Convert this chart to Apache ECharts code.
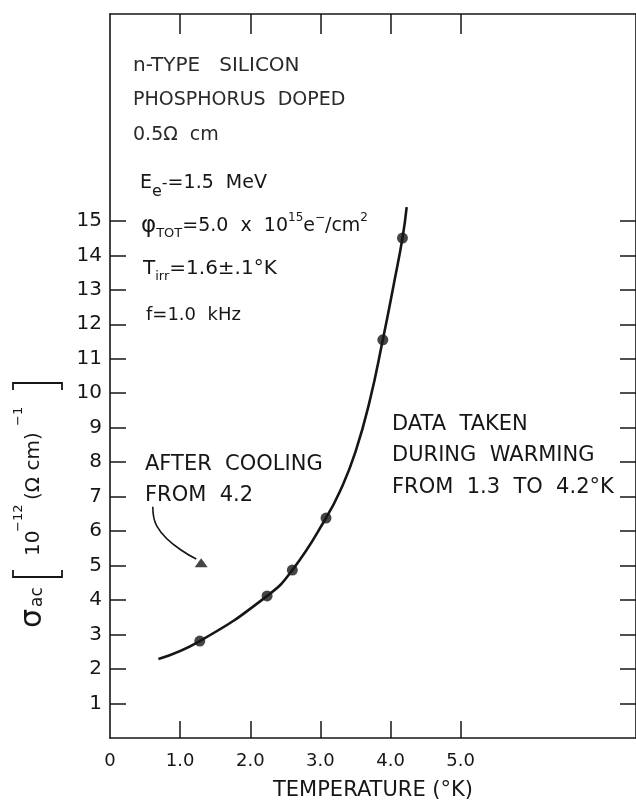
<!DOCTYPE html>
<html>
<head>
<meta charset="utf-8">
<script src="https://cdn.jsdelivr.net/npm/echarts@6/dist/echarts.min.js"></script>
<style>
  html, body { margin: 0; padding: 0; background: #fff; }
  #chart { width: 636px; height: 806px; }
</style>
</head>
<body>
<div id="chart"></div>
<script>
// Tick positions and labels
const yTickValues = [1, 2, 3, 4, 5, 6, 7, 8, 9, 10, 11, 12, 13, 14, 15];
const xTickValues = [1, 2, 3, 4, 5];
const xLabelValues = [0, 1, 2, 3, 4, 5];
const xTickLabels = ['0', '1.0', '2.0', '3.0', '4.0', '5.0'];

// Conductivity measured while warming from 1.3 to 4.2 K
const warmTemp  = [1.28, 2.24, 2.60, 3.08, 3.89, 4.17];
const warmSigma = [2.81, 4.12, 4.87, 6.38, 11.55, 14.5];

// Hand-drawn trend through the warming data
const curveTemp  = [0.69, 1.28, 2.24, 2.60, 3.08, 3.30, 3.50, 3.70, 3.89, 4.05, 4.17, 4.23];
const curveSigma = [2.29, 2.81, 4.12, 4.87, 6.38, 7.25, 8.30, 9.75, 11.55, 13.2, 14.5, 15.4];

// Single reading taken after cooling back from 4.2 K
const cooledTemp  = [1.30];
const cooledSigma = [5.08];

// Leader arrow from the "after cooling" note to that reading
const arrowTemp  = [0.61, 0.67, 1.23];
const arrowSigma = [6.71, 6.14, 5.19];

const INK = '#161616';
const FONT = 'DejaVu Sans';

const pairs = (xs, ys) => xs.map((x, i) => [x, ys[i]]);

const chart = echarts.init(document.getElementById('chart'), null, { renderer: 'canvas' });

const axisLineStyle = { color: INK, width: 1.6 };
const tickStyle = { color: INK, width: 1.5 };

function note(x, y, text, size, rich, color) {
  return {
    type: 'text', x: x, y: y, z: 50,
    style: {
      text: text, fill: color || INK, fontFamily: FONT, fontSize: size,
      align: 'left', verticalAlign: 'middle', rich: rich || undefined
    }
  };
}

function upright(x, y, text, size) {
  return {
    type: 'text', x: x, y: y, rotation: Math.PI / 2, z: 50,
    style: { text: text, fill: INK, fontFamily: FONT, fontSize: size, align: 'left', verticalAlign: 'middle' }
  };
}

const richBase = {
  sub: { fontSize: 13, fontFamily: FONT, fill: INK, padding: [16, 0, 0, 0] },
  subE: { fontSize: 16, fontFamily: FONT, fill: INK, padding: [18, 0, 0, 0] },
  dash: { fontSize: 16, fontFamily: FONT, fill: INK, padding: [2, 0, 0, 0] },
  sup: { fontSize: 12, fontFamily: FONT, fill: INK, padding: [0, 0, 16, 0] },
  phi: { fontSize: 23, fontFamily: FONT, fill: INK }
};

const option = {
  animation: false,
  backgroundColor: '#ffffff',
  grid: { left: 110, right: -3, top: 14, bottom: 60 },
  xAxis: [
    {
      type: 'value', min: 0, max: 7.5, position: 'bottom',
      axisLine: { onZero: false, lineStyle: axisLineStyle },
      axisTick: { inside: true, length: 17, customValues: xTickValues, lineStyle: tickStyle },
      axisLabel: {
        customValues: xLabelValues,
        formatter: v => xTickLabels[xLabelValues.indexOf(Math.round(v))],
        color: INK, fontFamily: FONT, fontSize: 18, margin: 14
      },
      splitLine: { show: false },
      name: 'TEMPERATURE (°K)', nameLocation: 'middle', nameGap: 42,
      nameTextStyle: { color: INK, fontFamily: FONT, fontSize: 21 }
    },
    {
      type: 'value', min: 0, max: 7.5, position: 'top',
      axisLine: { onZero: false, lineStyle: axisLineStyle },
      axisTick: { inside: true, length: 20, customValues: xTickValues, lineStyle: tickStyle },
      axisLabel: { show: false },
      splitLine: { show: false }
    }
  ],
  yAxis: [
    {
      type: 'value', min: 0, max: 21, position: 'left',
      axisLine: { show: true, onZero: false, lineStyle: axisLineStyle },
      axisTick: { show: true, inside: true, length: 16, customValues: yTickValues, lineStyle: tickStyle },
      axisLabel: { customValues: yTickValues, color: INK, fontFamily: FONT, fontSize: 20, margin: 8 },
      splitLine: { show: false }
    },
    {
      type: 'value', min: 0, max: 21, position: 'right',
      axisLine: { show: true, onZero: false, lineStyle: axisLineStyle },
      axisTick: { show: true, inside: true, length: 16, customValues: yTickValues, lineStyle: tickStyle },
      axisLabel: { show: false },
      splitLine: { show: false }
    }
  ],
  series: [
    {
      name: 'trend', type: 'line', data: pairs(curveTemp, curveSigma),
      smooth: 0.5, showSymbol: false, symbol: 'none',
      lineStyle: { color: INK, width: 2.6 }, z: 3
    },
    {
      name: 'warming', type: 'scatter', data: pairs(warmTemp, warmSigma),
      symbol: 'circle', symbolSize: 11, itemStyle: { color: INK }, z: 5
    },
    {
      name: 'cooled', type: 'scatter', data: pairs(cooledTemp, cooledSigma),
      symbol: 'triangle', symbolSize: [13, 9], itemStyle: { color: INK }, z: 5
    },
    {
      name: 'leader', type: 'line', data: pairs(arrowTemp, arrowSigma),
      smooth: 0.5, symbol: 'none', lineStyle: { color: INK, width: 1.6 }, z: 4
    }
  ],
  graphic: [
    // Sample description
    note(133, 66, 'n-TYPE   SILICON', 20, null, '#2a2a2a'),
    note(133, 100, 'PHOSPHORUS  DOPED', 19, null, '#2a2a2a'),
    note(133, 135, '0.5Ω  cm', 19, null, '#2a2a2a'),
    note(140, 183, 'E{subE|e}{dash|-}=1.5  MeV', 19, richBase),
    note(141, 226, '{phi|φ}{sub|TOT}=5.0  x  10{sup|15}e{sup|−}/cm{sup|2}', 19, richBase),
    note(143, 269, 'T{sub|irr}=1.6±.1°K', 20, richBase),
    note(146, 315, 'f=1.0  kHz', 18),
    // Annotations
    note(145, 465, 'AFTER  COOLING', 21),
    note(145, 496, 'FROM  4.2', 21),
    note(392, 425, 'DATA  TAKEN', 21),
    note(392, 456, 'DURING  WARMING', 21),
    note(392, 488, 'FROM  1.3  TO  4.2°K', 21),
    // Vertical axis title: σac [10^-12 (Ω cm)^-1]
    upright(33, 628, 'σ', 30),
    upright(38, 607, 'ac', 17),
    upright(34, 556, '10', 20),
    upright(19, 532, '−12', 13),
    upright(34, 500, '(Ω cm)', 20),
    upright(19, 426, '−1', 13),
    {
      type: 'polyline', z: 50,
      shape: { points: [[13, 570], [13, 577], [62, 577], [62, 570]] },
      style: { stroke: INK, lineWidth: 1.8, fill: null }
    },
    {
      type: 'polyline', z: 50,
      shape: { points: [[13, 390], [13, 383], [62, 383], [62, 390]] },
      style: { stroke: INK, lineWidth: 1.8, fill: null }
    }
  ]
};

chart.setOption(option);
</script>
</body>
</html>
